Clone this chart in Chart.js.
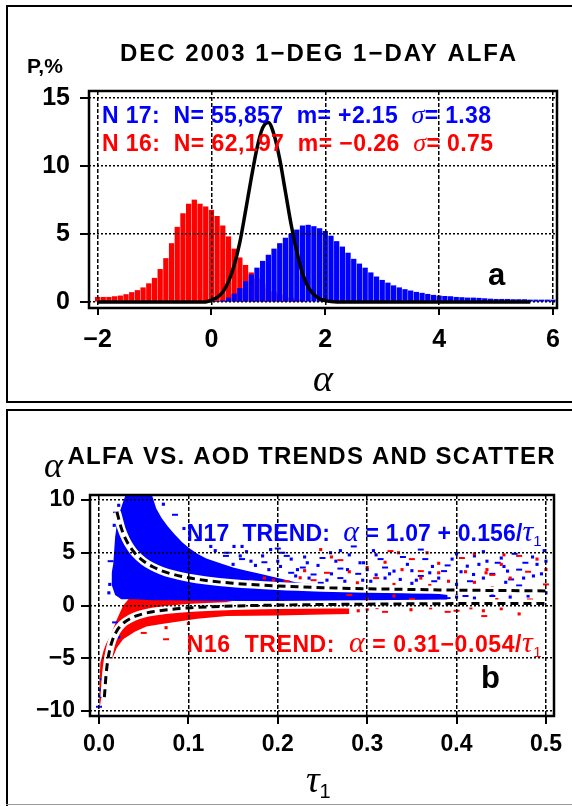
<!DOCTYPE html>
<html><head><meta charset="utf-8">
<script src="https://cdn.jsdelivr.net/npm/chart.js@4.4.1/dist/chart.umd.min.js"></script>
<style>
html,body{margin:0;padding:0;background:#fff;}
body{width:572px;height:806px;position:relative;overflow:hidden;}
.ln{position:absolute;background:#000;}
#wa{position:absolute;left:0;top:0;width:572px;height:404px;}
#wb{position:absolute;left:0;top:404px;width:572px;height:402px;}
canvas{display:block;}
</style></head><body>
<div id="wa"><canvas id="ca" width="572" height="404" style="width:572px;height:404px"></canvas></div>
<div id="wb"><canvas id="cb" width="572" height="402" style="width:572px;height:402px"></canvas></div>
<div class="ln" style="left:6px;top:5px;width:566px;height:2px"></div>
<div class="ln" style="left:6px;top:5px;width:2px;height:398px"></div>
<div class="ln" style="left:6px;top:401px;width:566px;height:2px"></div>
<div class="ln" style="left:6px;top:409px;width:566px;height:2px"></div>
<div class="ln" style="left:6px;top:409px;width:2px;height:397px"></div>
<div class="ln" style="left:6px;top:804px;width:566px;height:1px;background:#999"></div>
<script>
// ================= PANEL A DATA =================
const n16BinCenters = [-2.0,-1.9,-1.8,-1.7,-1.6,-1.5,-1.4,-1.3,-1.2,-1.1,-1.0,-0.9,-0.8,-0.7,-0.6,-0.5,-0.4,-0.3,-0.2,-0.1,0.0,0.1,0.2,0.3,0.4,0.5,0.6,0.7,0.8,0.9,1.0,1.1,1.2,1.3,1.4,1.5,1.6];
const n16Percent    = [0.35,0.35,0.35,0.4,0.45,0.55,0.7,0.85,1.05,1.35,1.75,2.4,3.2,4.3,5.5,6.5,7.2,7.5,7.2,7.0,6.75,6.3,5.6,4.8,3.9,3.25,2.7,2.15,1.7,1.3,1.0,0.75,0.55,0.4,0.3,0.2,0.1];
const n17BinCenters = [0.1,0.2,0.3,0.4,0.5,0.6,0.7,0.8,0.9,1.0,1.1,1.2,1.3,1.4,1.5,1.6,1.7,1.8,1.9,2.0,2.1,2.2,2.3,2.4,2.5,2.6,2.7,2.8,2.9,3.0,3.1,3.2,3.3,3.4,3.5,3.6,3.7,3.8,3.9,4.0,4.1,4.2,4.3,4.4,4.5,4.6,4.7,4.8,4.9,5.0,5.1,5.2,5.3,5.4,5.5,5.6,5.7,5.8,5.9,6.0];
const n17Percent    = [0.05,0.1,0.3,0.6,1.0,1.5,2.0,2.5,3.0,3.45,3.9,4.3,4.7,5.0,5.3,5.6,5.65,5.55,5.4,5.2,4.85,4.45,4.05,3.6,3.15,2.8,2.5,2.15,1.85,1.6,1.4,1.2,1.05,0.92,0.82,0.72,0.65,0.57,0.5,0.45,0.42,0.4,0.35,0.33,0.3,0.3,0.28,0.25,0.22,0.2,0.2,0.2,0.18,0.18,0.18,0.15,0.15,0.15,0.15,0.15];
const fitAlpha   = [-2.0,-0.1,0.0,0.1,0.2,0.3,0.4,0.5,0.6,0.7,0.8,0.9,1.0,1.1,1.2,1.3,1.4,1.5,1.6,1.7,1.8,1.9,2.0,2.1,2.2,5.6];
const fitPercent = [0,0,0.14,0.34,0.74,1.5,2.7,4.4,6.7,9.1,11.3,12.8,13.2,12.3,10.5,8.1,5.7,3.7,2.1,1.1,0.55,0.24,0.1,0.03,0,0];
const alphaTicksA = [-2,0,2,4,6];
const pctTicksA = [0,5,10,15];

// ================= PANEL B DATA =================
const tauTicksB = [0,0.1,0.2,0.3,0.4,0.5];
const alphaTicksB = [-10,-5,0,5,10];
// dense N17 cloud envelope
const n17UpperTau   = [0.014,0.016,0.018,0.021,0.026,0.031,0.058,0.064,0.07,0.077,0.085,0.093,0.1,0.11,0.12,0.134,0.15,0.165,0.18,0.2,0.22,0.25,0.3,0.34,0.37,0.39];
const n17UpperAlpha = [3.0,4.0,6.5,8.3,9.6,10.8,10.8,9.2,8.3,7.5,6.7,6.0,5.5,4.9,4.45,4.05,3.6,3.3,3.0,2.6,2.2,1.95,1.5,1.35,1.2,1.0];
const n17LowerTau   = [0.014,0.018,0.025,0.04,0.06,0.08,0.12,0.2,0.3,0.37,0.39];
const n17LowerAlpha = [2.0,1.0,0.6,0.6,0.5,0.5,0.45,0.4,0.4,0.45,0.6];
// dense N16 cloud envelope
const n16UpperTau   = [0.0,0.0005,0.0015,0.005,0.008,0.012,0.016,0.02,0.027,0.035,0.045,0.06,0.08,0.1,0.13,0.16,0.2,0.25,0.28];
const n16UpperAlpha = [-10.6,-7.5,-5.4,-4.3,-3.6,-3.0,-2.2,-1.3,0.0,0.8,1.3,1.5,1.2,0.9,0.6,0.2,-0.15,-0.2,-0.25];
const n16LowerTau   = [0.0,0.0005,0.002,0.004,0.007,0.011,0.016,0.02,0.027,0.04,0.053,0.07,0.091,0.11,0.143,0.2,0.25,0.28];
const n16LowerAlpha = [-10.8,-9.8,-9.0,-8.0,-6.7,-5.8,-4.8,-4.0,-3.2,-2.5,-2.0,-1.75,-1.5,-1.25,-1.0,-0.95,-0.85,-0.8];
// sparse points
const n17SparseTau   = [0.143,0.158,0.192,0.21,0.233,0.259,0.285,0.203,0.222,0.24,0.278,0.292,0.248,0.307,0.296,0.32,0.33,0.373,0.386,0.304,0.337,0.375,0.412,0.419,0.446,0.434,0.457,0.386,0.42,0.453,0.477,0.498,0.486,0.461,0.151,0.183,0.142,0.17,0.26,0.27,0.31,0.35,0.36,0.4,0.43,0.47,0.5,0.44,0.41,0.48,0.23,0.11,0.125,0.095,0.085,0.072,0.13,0.215,0.345,0.395,0.465,0.49,
  0.15,0.16,0.165,0.175,0.185,0.19,0.2,0.205,0.215,0.22,0.228,0.235,0.245,0.25,0.255,0.265,0.27,0.275,0.28,0.29,0.295,0.3,0.315,0.32,0.325,0.34,0.35,0.355,0.365,0.37,0.38,0.39,0.4,0.405,0.415,0.425,0.43,0.44,0.45,0.455,0.47,0.475,0.485,0.49,0.495,0.38,0.39,0.4,0.42,0.44,0.46,0.16,0.2,0.27,0.31,0.36,0.43,0.5,
  0.0,0.001,0.002,0.004,0.008,0.012,0.016,0.02,0.024,0.018,0.022,0.012,0.013,0.011,0.017,0.019,0.022];
const n17SparseAlpha = [5.0,4.7,5.3,4.7,4.05,5.0,5.6,3.7,3.4,2.94,3.4,4.05,2.15,5.2,4.05,3.6,3.26,3.7,3.26,2.3,2.47,2.3,3.73,2.94,4.05,4.2,3.26,0.57,4.7,3.7,4.05,5.2,2.8,2.47,5.6,4.7,4.7,4.2,3.0,2.6,2.9,2.1,2.8,2.0,1.6,1.9,1.2,1.1,0.9,0.9,4.6,6.2,5.6,7.3,8.6,9.6,5.2,3.1,3.9,4.4,4.9,3.9,
  3.9,4.4,5.1,3.8,4.1,3.4,4.2,5.0,4.4,2.8,3.6,2.6,3.8,4.5,2.4,4.2,3.5,2.3,4.8,3.0,2.4,3.4,4.4,2.6,3.0,4.6,3.3,2.4,4.4,3.1,2.6,3.8,4.9,3.2,2.3,3.9,2.6,3.0,4.5,2.2,3.4,2.6,4.6,1.6,3.0,0.9,0.7,0.8,0.7,0.9,0.8,5.6,5.4,5.2,4.8,5.3,5.1,4.2,
  -9.6,-8.6,-8.0,-7.0,-5.6,-4.2,-3.3,-2.6,-2.0,-1.6,-3.0,2.0,4.2,1.2,7.6,8.8,9.5];
const n16SparseTau   = [0.326,0.335,0.339,0.36,0.367,0.391,0.406,0.434,0.453,0.431,0.349,0.311,0.337,0.371,0.416,0.255,0.248,0.289,0.192,0.199,0.225,0.165,0.42,0.433,0.47,0.445,0.41,0.482,0.42,0.205,0.21,0.195,0.3,0.27,0.38,0.46,0.5,0.49,0.45,0.4,0.36,0.3,0.32,0.29,0.47,0.155,0.18,0.37,0.28,0.26,0.23,0.05,0.075,0.1,0.075,
  0.21,0.23,0.24,0.26,0.28,0.31,0.32,0.33,0.35,0.36,0.38,0.39,0.41,0.42,0.44,0.45,0.46,0.48,0.49,0.5,0.39,0.43,0.46,0.35,0.33,0.3,0.27,0.4,0.44,0.22,0.17,0.185];
const n16SparseAlpha = [5.16,5.0,3.4,3.26,5.0,2.3,4.5,3.4,4.8,-1.0,-0.4,-0.2,-0.07,-0.22,-0.22,3.1,5.3,2.15,2.15,1.83,2.63,1.83,4.9,3.1,4.7,0.57,0.0,0.57,1.4,2.0,2.3,2.4,3.6,4.3,4.0,2.6,2.0,0.1,-0.3,-0.5,0.2,0.6,-0.6,-0.5,-0.8,2.0,1.9,1.9,1.0,0.2,-0.3,-2.6,-2.1,-1.7,-3.2,
  2.0,3.3,2.4,4.6,3.2,2.6,4.1,2.0,4.4,2.6,3.1,1.6,3.2,2.2,2.9,3.9,1.2,3.2,4.4,3.4,-0.6,-0.5,0.2,0.6,0.9,-0.35,-0.4,1.2,1.7,1.6,2.3,2.6];
// regression trends (N17: 1.07+0.156/tau, N16: 0.31-0.054/tau)
const n17TrendTau   = [0.02,0.025,0.03,0.035,0.04,0.05,0.06,0.07,0.08,0.1,0.12,0.15,0.2,0.25,0.3,0.35,0.4,0.45,0.5];
const n17TrendAlpha = [8.87,7.31,6.27,5.53,4.97,4.19,3.67,3.30,3.02,2.63,2.37,2.11,1.85,1.69,1.59,1.52,1.46,1.42,1.38];
const n16TrendTau   = [0.006,0.008,0.01,0.0125,0.015,0.02,0.025,0.03,0.04,0.05,0.06,0.08,0.1,0.15,0.2,0.3,0.4,0.5];
const n16TrendAlpha = [-8.69,-6.44,-5.09,-4.01,-3.29,-2.39,-1.85,-1.49,-1.04,-0.77,-0.59,-0.37,-0.23,-0.05,0.04,0.13,0.18,0.20];

// ================= HELPERS =================
const SANS = '"Liberation Sans", Arial, Helvetica, sans-serif';
const SERIF = '"Liberation Serif", "Times New Roman", serif';
const RED = '#ff0000', BLUE = '#0000ff';
const pts = (xs, ys) => xs.map((x, i) => ({x: x, y: ys[i]}));
const minus = v => (v < 0 ? '\u2212' + Math.abs(v) : String(v));

function drawRuns(ctx, runs, x, y, width, color, align) {
  ctx.save();
  ctx.fillStyle = color;
  ctx.textBaseline = 'alphabetic';
  ctx.textAlign = 'left';
  const canLS = 'letterSpacing' in ctx;
  if (canLS) ctx.letterSpacing = '0px';
  let nat = 0, n = 0;
  runs.forEach(r => { ctx.font = r.font; r.w = ctx.measureText(r.t).width; r.n = Array.from(r.t).length; nat += r.w; n += r.n; });
  const ls = (width && canLS) ? (width - nat) / Math.max(1, n - 1) : 0;
  let cx = align === 'center' ? x - (nat + ls * (n - 1)) / 2 : x;
  runs.forEach(r => {
    ctx.font = r.font;
    if (canLS) ctx.letterSpacing = ls + 'px';
    ctx.fillText(r.t, cx, y + (r.dy || 0));
    cx += r.w + ls * r.n;
  });
  if (canLS) ctx.letterSpacing = '0px';
  ctx.restore();
}

// frame, tick marks and annotation text
function frameAndText(tickLenX, tickLenY, drawTexts) {
  return {
    id: 'frameAndText',
    afterDraw(chart) {
      const ctx = chart.ctx, a = chart.chartArea;
      const sx = chart.scales.x, sy = chart.scales.y;
      ctx.save();
      ctx.strokeStyle = '#000';
      ctx.lineWidth = 2;
      ctx.setLineDash([]);
      ctx.beginPath();
      sx.ticks.forEach(t => { const p = Math.round(sx.getPixelForValue(t.value)); ctx.moveTo(p, a.bottom); ctx.lineTo(p, a.bottom + tickLenX); });
      sy.ticks.forEach(t => { const p = Math.round(sy.getPixelForValue(t.value)); ctx.moveTo(a.left - tickLenY, p); ctx.lineTo(a.left, p); });
      ctx.stroke();
      ctx.lineWidth = 2.5;
      ctx.strokeRect(a.left, a.top, a.right - a.left, a.bottom - a.top);
      ctx.restore();
      drawTexts(ctx);
    }
  };
}

function axisOpts(o) {
  return {
    type: 'linear', min: o.min, max: o.max, offset: false,
    afterFit(s) {
      if (o.w) s.width = o.w;
      if (o.h) s.height = o.h;
      s.paddingLeft = 0; s.paddingRight = 0; s.paddingTop = 0; s.paddingBottom = 0;
    },
    afterBuildTicks(s) { s.ticks = o.ticks.map(v => ({value: v})); },
    grid: {color: '#000', lineWidth: 1.5, offset: false, drawTicks: false, tickLength: 0, z: 1},
    border: {display: false, dash: o.dash},
    ticks: {padding: o.pad, color: '#000', font: {family: SANS, size: o.fs, weight: 'bold'}, maxRotation: 0, autoSkip: false, callback: o.cb}
  };
}

// ================= CHART A =================
new Chart(document.getElementById('ca'), {
  type: 'bar',
  data: {datasets: [
    {type: 'line', label: 'fit', data: pts(fitAlpha, fitPercent), borderColor: '#000', borderWidth: 3.5, pointRadius: 0, fill: false, cubicInterpolationMode: 'monotone', order: 0},
    {label: 'N17', data: pts(n17BinCenters, n17Percent), backgroundColor: BLUE, borderWidth: 0, barThickness: 4.6, grouped: false, order: 1},
    {label: 'N16', data: pts(n16BinCenters, n16Percent), backgroundColor: RED, borderWidth: 0, barThickness: 4.6, grouped: false, order: 2}
  ]},
  options: {
    responsive: false, animation: false, devicePixelRatio: 1,
    layout: {padding: {top: 91, right: 15, bottom: 36, left: 0}},
    plugins: {legend: {display: false}, tooltip: {enabled: false}, title: {display: false}},
    scales: {
      x: axisOpts({min: -2.15, max: 6.07, ticks: alphaTicksA, h: 60, pad: 17, fs: 25, dash: [4, 2], cb: v => minus(v)}),
      y: axisOpts({min: -0.44, max: 15.51, ticks: pctTicksA, w: 89, pad: 19, fs: 25, dash: [2, 2], cb: v => minus(v)})
    }
  },
  plugins: [frameAndText(7, 9, ctx => {
    const B = 'bold ', f = (s, fam) => s + 'px ' + (fam || SANS);
    drawRuns(ctx, [{t: 'P,%', font: B + f(21)}], 27, 73, 0, '#000');
    drawRuns(ctx, [{t: 'DEC 2003 1\u2212DEG 1\u2212DAY ALFA', font: B + f(24)}], 120, 61, 396, '#000');
    drawRuns(ctx, [{t: 'N 17:  N= 55,857  m= +2.15  ', font: B + f(23)}, {t: '\u03c3', font: 'italic ' + f(26, SERIF)}, {t: '= 1.38', font: B + f(23)}], 102, 122.5, 389, BLUE);
    drawRuns(ctx, [{t: 'N 16:  N= 62,197  m= \u22120.26  ', font: B + f(23)}, {t: '\u03c3', font: 'italic ' + f(26, SERIF)}, {t: '= 0.75', font: B + f(23)}], 102, 150.5, 391, RED);
    drawRuns(ctx, [{t: 'a', font: B + f(31)}], 488, 285, 0, '#000');
    drawRuns(ctx, [{t: '\u03b1', font: 'italic ' + f(38, SERIF)}], 323, 391, 0, '#000', 'center');
  })]
});

// ================= CHART B =================
const lineDs = (data, extra) => Object.assign({type: 'line', data: data, pointRadius: 0, borderWidth: 0, fill: false, tension: 0, clip: 0}, extra);
const isDash = c => c.dataIndex % 3 === 0;
const sparseStyle = color => ({
  backgroundColor: color, borderColor: color, clip: 0,
  pointStyle: c => (isDash(c) ? 'line' : 'rect'),
  pointRadius: c => (isDash(c) ? 3 : 2.2),
  borderWidth: c => (isDash(c) ? 2 : 0)
});
new Chart(document.getElementById('cb'), {
  type: 'scatter',
  data: {datasets: [
    lineDs(pts(n17TrendTau, n17TrendAlpha), {label: 'N17 trend', borderColor: '#000', borderWidth: 3, borderDash: [8, 5], cubicInterpolationMode: 'monotone', order: 1}),
    lineDs(pts(n16TrendTau, n16TrendAlpha), {label: 'N16 trend', borderColor: '#000', borderWidth: 3, borderDash: [8, 5], cubicInterpolationMode: 'monotone', order: 2}),
    lineDs(pts(n17TrendTau, n17TrendAlpha), {label: 'halo17', borderColor: '#fff', borderWidth: 8, cubicInterpolationMode: 'monotone', order: 3}),
    lineDs(pts(n16TrendTau, n16TrendAlpha), {label: 'halo16', borderColor: '#fff', borderWidth: 8, cubicInterpolationMode: 'monotone', order: 4}),
    Object.assign({label: 'N16 pts', data: pts(n16SparseTau, n16SparseAlpha), order: 5}, sparseStyle(RED)),
    Object.assign({label: 'N17 pts', data: pts(n17SparseTau, n17SparseAlpha), order: 6}, sparseStyle(BLUE)),
    lineDs(pts(n17UpperTau, n17UpperAlpha), {label: 'N17 cloud', fill: '+1', backgroundColor: BLUE, borderColor: BLUE, order: 7}),
    lineDs(pts(n17LowerTau, n17LowerAlpha), {label: 'N17 cloud low', order: 8}),
    lineDs(pts(n16UpperTau, n16UpperAlpha), {label: 'N16 cloud', fill: '+1', backgroundColor: RED, borderColor: RED, order: 9}),
    lineDs(pts(n16LowerTau, n16LowerAlpha), {label: 'N16 cloud low', order: 10})
  ]},
  options: {
    responsive: false, animation: false, devicePixelRatio: 1,
    layout: {padding: {top: 91, right: 18, bottom: 30, left: 0}},
    plugins: {legend: {display: false}, tooltip: {enabled: false}, title: {display: false}},
    scales: {
      x: axisOpts({min: -0.0101, max: 0.509, ticks: tauTicksB, h: 60, pad: 15, fs: 23, dash: [4, 2], cb: v => Number(v).toFixed(1)}),
      y: axisOpts({min: -10.475, max: 10.475, ticks: alphaTicksB, w: 90, pad: 15, fs: 23, dash: [2, 2], cb: v => minus(v)})
    }
  },
  plugins: [frameAndText(8, 9, ctx => {
    const B = 'bold ', f = (s, fam) => s + 'px ' + (fam || SANS);
    drawRuns(ctx, [{t: '\u03b1', font: 'italic ' + f(36, SERIF)}], 44, 73, 0, '#000');
    drawRuns(ctx, [{t: 'ALFA VS. AOD TRENDS AND SCATTER', font: B + f(24)}], 67.5, 60, 487, '#000');
    drawRuns(ctx, [{t: 'N17  TREND:  ', font: B + f(23)}, {t: '\u03b1', font: 'italic ' + f(30, SERIF)}, {t: ' = 1.07 + 0.156/', font: B + f(23)}, {t: '\u03c4', font: 'italic ' + f(30, SERIF)}, {t: '1', font: f(15), dy: 5}], 186.7, 137, 355, BLUE);
    drawRuns(ctx, [{t: 'N16  TREND:  ', font: B + f(23)}, {t: '\u03b1', font: 'italic ' + f(30, SERIF)}, {t: ' = 0.31\u22120.054/', font: B + f(23)}, {t: '\u03c4', font: 'italic ' + f(30, SERIF)}, {t: '1', font: f(15), dy: 5}], 186.7, 248, 355, RED);
    drawRuns(ctx, [{t: 'b', font: B + f(31)}], 481, 284, 0, '#000');
    drawRuns(ctx, [{t: '\u03c4', font: 'italic ' + f(38, SERIF)}, {t: '1', font: f(20), dy: 6}], 306, 388, 0, '#000');
  })]
});
</script>
</body></html>
